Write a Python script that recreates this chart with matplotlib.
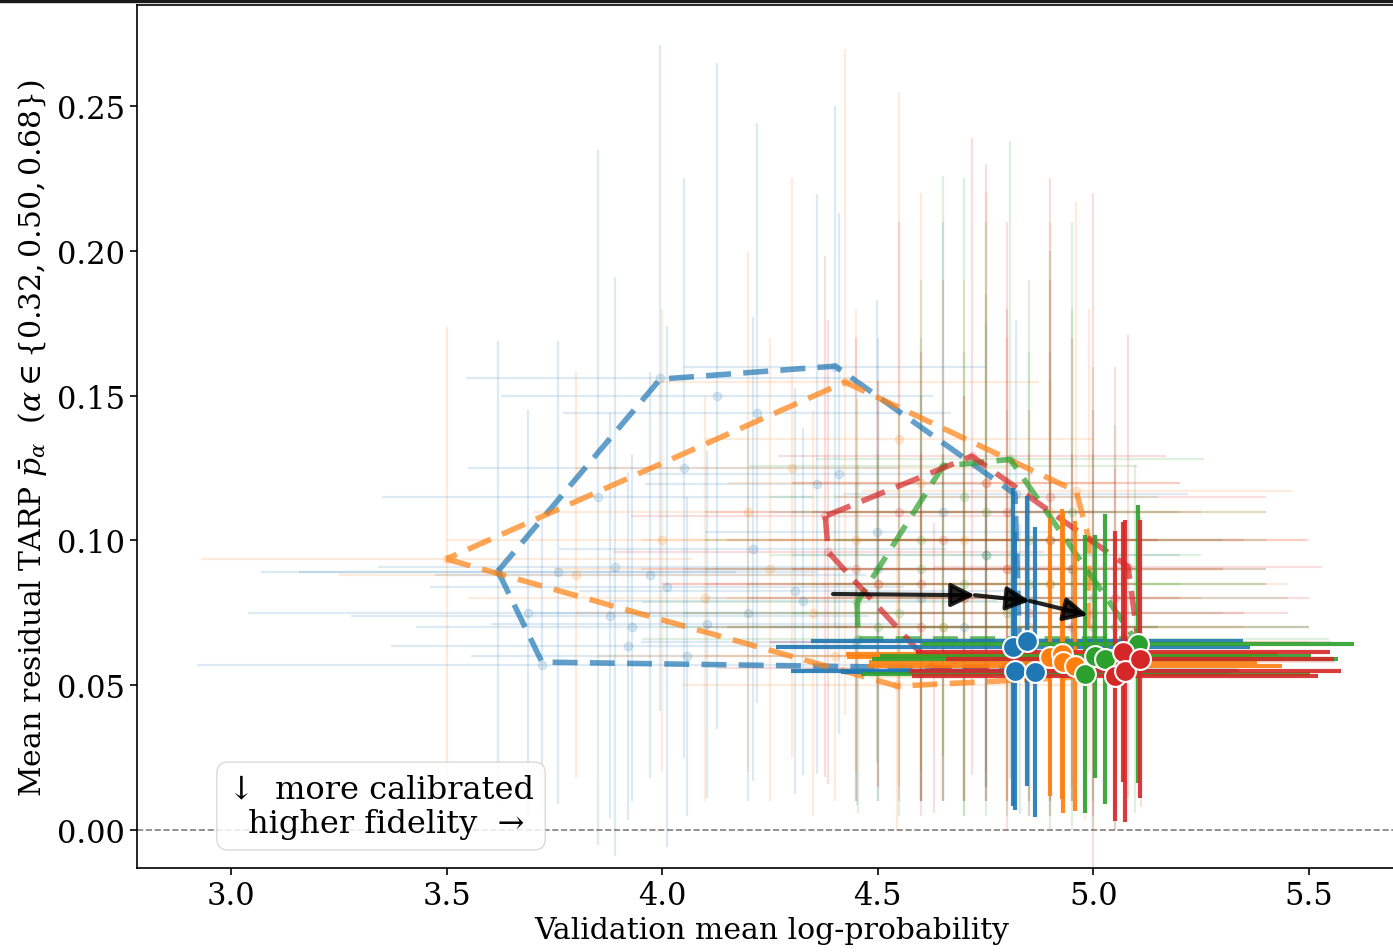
import matplotlib
matplotlib.use('Agg')
import matplotlib.pyplot as plt
from matplotlib.patches import Rectangle
import numpy as np

plt.rcParams['font.family'] = ['DejaVu Serif']
plt.rcParams['mathtext.fontset'] = 'dejavuserif'

colours = ['tab:blue', 'tab:orange', 'tab:green', 'tab:red']

# all trials (faint points)
blue_x    = [3.62, 3.72, 3.995, 4.40, 4.82, 4.83, 4.127, 4.22, 3.758, 3.89, 3.972, 4.011, 3.879,
             3.93, 3.689, 3.92, 4.057, 4.104, 4.211, 4.308, 4.327, 4.359, 4.41, 4.498, 4.60, 4.70,
             4.50, 4.65, 4.75, 4.20, 4.45, 3.85, 4.05, 4.75]
blue_y    = [0.089, 0.057, 0.156, 0.160, 0.116, 0.0556, 0.150, 0.144, 0.089, 0.091, 0.088, 0.084, 0.074,
             0.070, 0.075, 0.0635, 0.060, 0.071, 0.097, 0.0825, 0.079, 0.1195, 0.123, 0.103, 0.080, 0.070,
             0.090, 0.110, 0.095, 0.075, 0.065, 0.115, 0.125, 0.065]
blue_xerr = [0.55, 0.80, 0.45, 0.35, 0.40, 0.50, 0.50, 0.45, 0.60, 0.55, 0.50, 0.55, 0.60,
             0.50, 0.65, 0.55, 0.50, 0.50, 0.45, 0.50, 0.45, 0.40, 0.45, 0.40, 0.50, 0.45,
             0.45, 0.40, 0.45, 0.50, 0.50, 0.50, 0.50, 0.50]
blue_yerr = [0.08, 0.05, 0.115, 0.09, 0.06, 0.05, 0.115, 0.10, 0.08, 0.10, 0.07, 0.09, 0.07,
             0.06, 0.07, 0.06, 0.055, 0.06, 0.08, 0.07, 0.06, 0.10, 0.09, 0.08, 0.07, 0.06,
             0.08, 0.10, 0.08, 0.065, 0.055, 0.12, 0.10, 0.05]

orange_x    = [3.50, 4.424, 4.545, 4.96, 4.99, 4.98, 4.0, 4.2, 4.3, 4.6, 4.7, 4.8, 4.5, 4.35, 4.1,
               4.65, 4.85, 4.9, 3.8, 4.45, 4.55, 4.75, 4.9, 4.25, 4.6, 4.8, 4.4, 4.7, 4.95]
orange_y    = [0.0936, 0.1547, 0.050, 0.117, 0.10, 0.053, 0.10, 0.11, 0.125, 0.12, 0.10, 0.09, 0.085,
               0.075, 0.08, 0.07, 0.07, 0.11, 0.088, 0.10, 0.135, 0.12, 0.085, 0.09, 0.06, 0.06, 0.06,
               0.08, 0.065]
orange_xerr = [0.57, 0.45, 0.5, 0.5, 0.5, 0.5, 0.5, 0.5, 0.5, 0.45, 0.45, 0.5, 0.5, 0.55, 0.55,
               0.5, 0.5, 0.5, 0.55, 0.5, 0.45, 0.45, 0.55, 0.5, 0.5, 0.5, 0.55, 0.55, 0.55]
orange_yerr = [0.08, 0.115, 0.05, 0.10, 0.08, 0.05, 0.08, 0.09, 0.10, 0.10, 0.09, 0.08, 0.07,
               0.07, 0.07, 0.06, 0.06, 0.10, 0.07, 0.08, 0.12, 0.10, 0.07, 0.08, 0.05, 0.05, 0.05,
               0.07, 0.05]

green_x    = [4.651, 4.807, 5.096, 4.454, 4.452, 4.6, 4.75, 4.85, 4.9, 4.7, 4.55, 4.95, 4.8, 5.0,
              4.65, 5.05, 4.7, 4.9, 5.0, 4.6, 4.75, 4.85, 4.5, 4.95]
green_y    = [0.1257, 0.128, 0.066, 0.066, 0.0787, 0.10, 0.11, 0.10, 0.085, 0.085, 0.075, 0.09, 0.075,
              0.08, 0.07, 0.07, 0.115, 0.10, 0.07, 0.09, 0.095, 0.085, 0.07, 0.11]
green_xerr = [0.45, 0.45, 0.45, 0.5, 0.5, 0.5, 0.45, 0.45, 0.5, 0.5, 0.5, 0.45, 0.5, 0.45,
              0.5, 0.45, 0.45, 0.5, 0.5, 0.5, 0.5, 0.55, 0.5, 0.45]
green_yerr = [0.10, 0.11, 0.06, 0.06, 0.07, 0.09, 0.10, 0.09, 0.08, 0.08, 0.07, 0.09, 0.07, 0.08,
              0.06, 0.07, 0.11, 0.10, 0.06, 0.08, 0.09, 0.08, 0.06, 0.10]

red_x    = [4.378, 4.385, 4.63, 5.11, 5.08, 4.718, 4.55, 4.65, 4.8, 4.9, 4.95, 4.5, 4.7, 4.85, 5.0,
            4.6, 5.05, 4.75, 4.9, 5.0, 4.45, 4.6, 4.8, 5.05, 4.75, 4.95]
red_y    = [0.1084, 0.096, 0.056, 0.058, 0.091, 0.129, 0.11, 0.10, 0.11, 0.10, 0.09, 0.085, 0.08,
            0.075, 0.075, 0.07, 0.08, 0.12, 0.115, 0.10, 0.09, 0.085, 0.09, 0.065, 0.065, 0.07]
red_xerr = [0.45, 0.5, 0.5, 0.45, 0.45, 0.45, 0.45, 0.5, 0.45, 0.45, 0.45, 0.5, 0.5, 0.5, 0.45,
            0.5, 0.45, 0.45, 0.5, 0.5, 0.5, 0.5, 0.5, 0.5, 0.5, 0.55]
red_yerr = [0.09, 0.08, 0.05, 0.05, 0.08, 0.11, 0.10, 0.09, 0.10, 0.09, 0.08, 0.07, 0.07, 0.07, 0.07,
            0.06, 0.08, 0.11, 0.11, 0.12, 0.08, 0.08, 0.09, 0.06, 0.055, 0.06]

# hull outlines
blue_hull_x   = [3.619, 3.721, 4.830, 4.818, 4.401, 3.995]
blue_hull_y   = [0.0894, 0.0580, 0.0556, 0.1160, 0.1602, 0.1557]
orange_hull_x = [3.499, 4.545, 4.985, 4.99, 4.96, 4.424]
orange_hull_y = [0.0936, 0.0497, 0.0530, 0.100, 0.117, 0.1547]
green_hull_x  = [4.452, 4.454, 5.096, 4.807, 4.651]
green_hull_y  = [0.0787, 0.0660, 0.0660, 0.1280, 0.1257]
red_hull_x    = [4.378, 4.385, 4.630, 5.110, 5.080, 4.718]
red_hull_y    = [0.1084, 0.0960, 0.0560, 0.0580, 0.0910, 0.1291]

# best models (highlighted)
blue_best_x    = [4.814, 4.846, 4.818, 4.865]
blue_best_y    = [0.0632, 0.0653, 0.0549, 0.0546]
blue_best_xerr = [0.55, 0.50, 0.52, 0.45]
blue_best_yerr = [0.055, 0.050, 0.048, 0.050]
orange_best_x    = [4.899, 4.927, 4.930, 4.957]
orange_best_y    = [0.0597, 0.0608, 0.0580, 0.0566]
orange_best_xerr = [0.47, 0.50, 0.45, 0.48]
orange_best_yerr = [0.048, 0.050, 0.052, 0.050]
green_best_x    = [4.981, 5.004, 5.027, 5.103]
green_best_y    = [0.0539, 0.0600, 0.0590, 0.0642]
green_best_xerr = [0.52, 0.50, 0.54, 0.50]
green_best_yerr = [0.048, 0.042, 0.050, 0.048]
red_best_x    = [5.050, 5.069, 5.073, 5.108]
red_best_y    = [0.0532, 0.0615, 0.0549, 0.0590]
red_best_xerr = [0.47, 0.48, 0.50, 0.45]
red_best_yerr = [0.050, 0.045, 0.052, 0.048]

arrow_x = [4.396, 4.725, 4.853, 4.987]
arrow_y = [0.0815, 0.0811, 0.0791, 0.0742]

faint = [(blue_x, blue_y, blue_xerr, blue_yerr), (orange_x, orange_y, orange_xerr, orange_yerr),
         (green_x, green_y, green_xerr, green_yerr), (red_x, red_y, red_xerr, red_yerr)]
hulls = [(blue_hull_x, blue_hull_y), (orange_hull_x, orange_hull_y),
         (green_hull_x, green_hull_y), (red_hull_x, red_hull_y)]
best = [(blue_best_x, blue_best_y, blue_best_xerr, blue_best_yerr),
        (orange_best_x, orange_best_y, orange_best_xerr, orange_best_yerr),
        (green_best_x, green_best_y, green_best_xerr, green_best_yerr),
        (red_best_x, red_best_y, red_best_xerr, red_best_yerr)]

fig = plt.figure(figsize=(13.93, 9.53), dpi=100)
ax = fig.add_axes([137/1393, 1 - 869/953, (1407 - 137)/1393, (869 - 6)/953])

ax.axhline(0.0, color='gray', ls='--', lw=1.2, zorder=0)

for (x, y, xe, ye), c in zip(faint, colours):
    ax.errorbar(x, y, xerr=xe, yerr=ye, fmt='o', ms=6, color=c, alpha=0.15, elinewidth=1.6, zorder=1)

for (hx, hy), c in zip(hulls, colours):
    ax.plot(hx + hx[:1], hy + hy[:1], ls=(0, (4.5, 2.2)), lw=4, color=c, alpha=0.7, zorder=2)

for (x, y, xe, ye), c in zip(best, colours):
    ax.errorbar(x, y, xerr=xe, yerr=ye, fmt='none', ecolor=c, elinewidth=3, alpha=0.9, zorder=3)
    ax.plot(x, y, 'o', ms=15, color=c, mec='white', mew=1.5, zorder=4)

for i in range(len(arrow_x) - 1):
    ax.annotate('', xy=(arrow_x[i + 1], arrow_y[i + 1]), xytext=(arrow_x[i], arrow_y[i]),
                arrowprops=dict(arrowstyle='-|>', color='black', lw=3, mutation_scale=36,
                                shrinkA=0, shrinkB=0, alpha=0.85), zorder=5)

ax.text(3.348, 0.0083, "\u2193  more calibrated\n higher fidelity  \u2192", ha='center', va='center',
        fontsize=23, zorder=6, linespacing=1.15,
        bbox=dict(boxstyle='round,pad=0.35', fc='white', ec='lightgray', alpha=0.85))

ax.set_xlim(2.782, 5.727)
ax.set_ylim(-0.0131, 0.2849)
ax.set_xticks([3.0, 3.5, 4.0, 4.5, 5.0, 5.5])
ax.set_yticks([0.0, 0.05, 0.10, 0.15, 0.20, 0.25])
ax.tick_params(labelsize=22, length=5, width=1.2)
for s in ax.spines.values():
    s.set_linewidth(1.2)
ax.set_xlabel('Validation mean log-probability', fontsize=21.5, labelpad=4)
ax.set_ylabel(r'Mean residual TARP $\bar{p}_\alpha$  ($\alpha \in \{0.32, 0.50, 0.68\}$)', fontsize=21.5,
              labelpad=6)

fig.add_artist(Rectangle((0, 1 - 2.5/953), 1, 2.5/953, transform=fig.transFigure, color='#1a1a1a'))

plt.savefig('out.png', dpi=100)
